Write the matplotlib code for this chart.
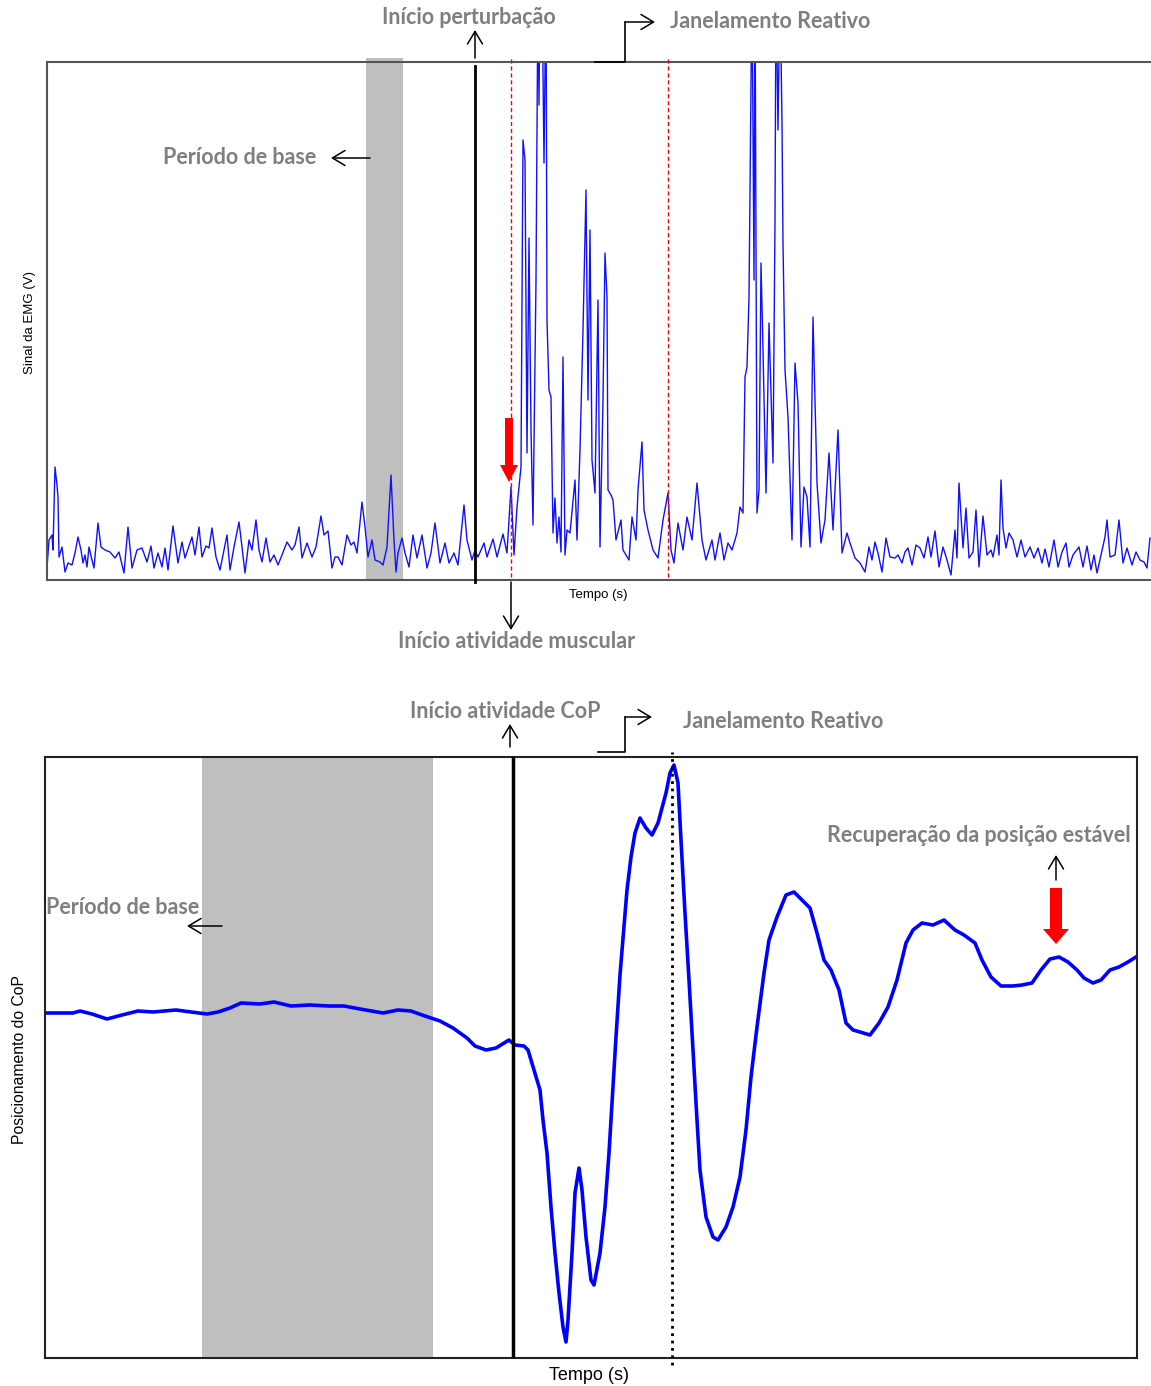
import matplotlib
matplotlib.use('Agg')
import matplotlib.pyplot as plt
from matplotlib.patches import FancyArrow, FancyArrowPatch
from matplotlib.lines import Line2D

W, H = 1151, 1386

# EMG signal (top panel) - time in sample units, amplitude in arbitrary units
emg_t = [47, 49, 52, 53, 55, 57, 58, 59, 62, 65, 68, 72, 75, 78, 81, 83, 85, 87, 89, 92,
         94, 98, 101, 105, 110, 115, 119, 124, 128, 132, 137, 142, 147, 151, 154, 158, 162, 165, 168, 173,
         178, 182, 185, 192, 195, 199, 202, 206, 209, 212, 216, 220, 227, 230, 234, 239, 242, 245, 249, 252,
         256, 259, 262, 266, 270, 274, 278, 282, 287, 292, 295, 299, 302, 307, 312, 316, 321, 324, 328, 332,
         335, 338, 342, 347, 351, 354, 357, 362, 365, 368, 372, 375, 380, 383, 387, 391, 394, 396, 398, 402,
         405, 409, 413, 417, 422, 427, 431, 435, 440, 445, 449, 454, 458, 464, 467, 472, 475, 478, 484, 487,
         493, 497, 503, 507, 511, 514, 517, 521, 523, 525, 527, 529, 531, 533, 536, 538, 539, 540, 542, 544,
         546, 547, 549, 551, 553, 555, 557, 559, 561, 563, 565, 567, 570, 575, 577, 580, 583, 586, 588, 590,
         592, 595, 598, 600, 603, 605, 607, 608, 611, 613, 616, 621, 623, 629, 632, 636, 638, 642, 644, 648,
         653, 658, 663, 668, 671, 674, 678, 683, 687, 692, 697, 702, 706, 712, 715, 720, 724, 728, 732, 737,
         740, 743, 745, 747, 749, 752, 754, 755, 757, 759, 761, 763, 766, 769, 773, 775, 776, 778, 780, 782,
         783, 785, 788, 792, 795, 798, 801, 804, 807, 810, 813, 817, 821, 825, 829, 833, 838, 842, 847, 850,
         855, 860, 865, 869, 872, 875, 878, 882, 886, 890, 895, 898, 902, 905, 908, 912, 916, 920, 924, 928,
         931, 935, 939, 943, 947, 951, 955, 957, 959, 963, 966, 969, 973, 976, 979, 983, 987, 991, 993, 997,
         999, 1001, 1003, 1006, 1009, 1013, 1017, 1021, 1025, 1030, 1034, 1038, 1042, 1045, 1049, 1054, 1058, 1062, 1066, 1069,
         1073, 1079, 1083, 1087, 1091, 1094, 1097, 1101, 1105, 1107, 1110, 1115, 1119, 1123, 1127, 1132, 1136, 1140, 1144, 1147,
         1150]
emg_v = [13, 40, 45, 30, 113, 95, 83, 23, 33, 8, 17, 15, 27, 43, 30, 17, 25, 13, 33, 20,
         12, 57, 33, 30, 28, 22, 28, 7, 53, 12, 30, 32, 18, 34, 12, 27, 13, 32, 10, 54,
         17, 38, 22, 43, 25, 53, 23, 34, 32, 52, 23, 10, 45, 10, 33, 58, 33, 7, 40, 30,
         60, 30, 18, 42, 18, 25, 15, 25, 38, 30, 35, 53, 22, 37, 23, 33, 64, 45, 49, 12,
         23, 23, 15, 45, 35, 38, 27, 78, 53, 23, 40, 20, 18, 15, 33, 105, 40, 8, 27, 42,
         27, 13, 45, 22, 45, 12, 27, 57, 17, 37, 17, 27, 15, 75, 40, 20, 30, 23, 37, 23,
         41, 23, 46, 27, 93, 25, 73, 113, 440, 420, 127, 342, 150, 55, 300, 600, 475, 600, 600, 417,
         600, 260, 190, 183, 47, 82, 37, 63, 28, 223, 25, 50, 47, 100, 40, 130, 250, 390, 180, 350,
         120, 87, 280, 33, 180, 327, 283, 90, 85, 80, 40, 60, 30, 20, 63, 40, 90, 138, 70, 50,
         30, 22, 60, 87, 30, 17, 57, 30, 63, 40, 97, 40, 20, 40, 20, 47, 20, 37, 30, 47,
         73, 67, 203, 213, 283, 600, 300, 600, 67, 90, 317, 230, 87, 257, 117, 360, 600, 450, 600, 457,
         337, 210, 163, 40, 217, 177, 33, 93, 83, 33, 263, 97, 37, 60, 127, 50, 150, 27, 47, 37,
         22, 17, 8, 33, 20, 38, 27, 8, 42, 23, 22, 25, 17, 28, 32, 15, 35, 32, 22, 43,
         23, 49, 13, 33, 20, 5, 50, 22, 97, 32, 72, 22, 28, 70, 13, 64, 25, 30, 23, 45,
         25, 100, 52, 32, 47, 40, 23, 40, 23, 33, 22, 32, 17, 31, 13, 40, 13, 28, 37, 13,
         25, 33, 13, 34, 10, 25, 7, 25, 43, 60, 23, 25, 60, 17, 32, 15, 28, 20, 18, 12,
         42]

# CoP position (bottom panel)
cop_t = [46, 60, 73, 80, 92, 107, 122, 138, 153, 176, 191, 207, 218, 230, 241, 260, 274, 291, 310, 329,
         344, 360, 383, 398, 411, 425, 440, 453, 467, 475, 486, 496, 509, 515, 524, 528, 534, 540, 543, 547,
         551, 555, 559, 563, 566, 568, 572, 575, 579, 582, 586, 591, 594, 600, 605, 609, 613, 616, 620, 624,
         627, 631, 635, 640, 646, 652, 658, 666, 670, 674, 678, 681, 685, 689, 693, 697, 700, 706, 713, 718,
         726, 733, 740, 746, 751, 757, 764, 769, 777, 786, 794, 802, 810, 817, 824, 831, 839, 846, 853, 860,
         870, 879, 888, 897, 906, 913, 922, 933, 944, 955, 964, 975, 982, 991, 1001, 1013, 1022, 1032, 1041, 1050,
         1059, 1068, 1077, 1084, 1093, 1101, 1110, 1119, 1128, 1136]
cop_v = [345, 345, 345, 347, 344, 339, 343, 347, 346, 348, 346, 344, 346, 350, 355, 354, 356, 352, 353, 352,
         352, 349, 345, 348, 347, 342, 337, 330, 320, 312, 308, 310, 318, 313, 312, 308, 288, 268, 238, 205,
         151, 105, 65, 31, 16, 38, 105, 165, 190, 168, 121, 78, 73, 105, 151, 205, 271, 321, 383, 431,
         468, 501, 525, 540, 530, 523, 535, 565, 585, 593, 575, 518, 445, 378, 308, 238, 188, 141, 121, 118,
         131, 151, 181, 228, 281, 331, 385, 418, 441, 463, 466, 458, 450, 425, 398, 388, 368, 335, 328, 326,
         323, 335, 351, 378, 415, 428, 435, 433, 438, 428, 423, 415, 398, 381, 372, 372, 373, 375, 388, 399,
         401, 396, 388, 380, 375, 378, 388, 391, 396, 401]

# event markers
emg_base = (366, 403)
emg_perturb = 475
emg_onset = 511
emg_window_end = 668
cop_base = (202, 433)
cop_onset = 513
cop_window_end = 672
cop_recovery = 1056

GREY_TXT = '#7f7f7f'
NOTE_FONT = 'Lato'


def fx(x):
    return x / W


def fy(y):
    return 1 - y / H


fig = plt.figure(figsize=(W / 100, H / 100), dpi=100)


def note(x, y, s):
    fig.text(fx(x), fy(y), s, ha='center', va='center', fontsize=15.5,
             color=GREY_TXT, fontweight='bold', family=NOTE_FONT)


def arrow(x0, y0, x1, y1):
    fig.add_artist(FancyArrowPatch((fx(x0), fy(y0)), (fx(x1), fy(y1)),
                                   transform=fig.transFigure, arrowstyle='->,head_length=0.5,head_width=0.3',
                                   mutation_scale=18, lw=1.1, color='black', shrinkA=0, shrinkB=0))


def elbow(x0, y0, xm, ym, x1):
    fig.add_artist(Line2D([fx(x0), fx(xm), fx(xm)], [fy(y0), fy(y0), fy(ym)],
                          transform=fig.transFigure, color='black', lw=1.2))
    arrow(xm, ym, x1, ym)


# ---------------- top panel: EMG ----------------
ax1 = fig.add_axes([fx(47), fy(580), (W - 47) / W, (580 - 62) / H])
ax1.set_xlim(47, W)
ax1.set_ylim(0, 518)
ax1.axvspan(emg_base[0], emg_base[1], ymin=0, ymax=1.008, color='#bfbfbf', lw=0, clip_on=False, zorder=0)
ax1.plot(emg_t, emg_v, color='#1010ff', lw=1.0, zorder=2)
ax1.axvline(emg_perturb, ymin=-0.004, ymax=0.992, color='black', lw=2, clip_on=False, zorder=3)
for xv in (emg_onset, emg_window_end):
    ax1.axvline(xv, ymin=0.005, ymax=1.008, color='red', lw=1, ls=(0, (3, 2)), clip_on=False, zorder=3)
ax1.add_patch(FancyArrow(509, 162, 0, -64, width=8, head_width=18, head_length=17,
                         length_includes_head=True, color='#ff0000', lw=0, zorder=4))
ax1.set_xticks([])
ax1.set_yticks([])
ax1.spines['right'].set_visible(False)
for s in ('left', 'top', 'bottom'):
    ax1.spines[s].set_color('#555555')
    ax1.spines[s].set_linewidth(1.5)
fig.text(fx(598), fy(595), 'Tempo (s)', ha='center', va='center', fontsize=9.5, family='Liberation Sans')
fig.text(fx(30), fy(322), 'Sinal da EMG (V)', ha='center', va='center', rotation=90,
         fontsize=9.5, family='Liberation Sans')

# ---------------- bottom panel: CoP ----------------
ax2 = fig.add_axes([fx(45), fy(1358), (1137 - 45) / W, (1358 - 757) / H])
ax2.set_xlim(45, 1137)
ax2.set_ylim(0, 601)
ax2.axvspan(cop_base[0], cop_base[1], color='#bfbfbf', lw=0, zorder=0)
ax2.plot(cop_t, cop_v, color='#0000ff', lw=2.6, zorder=2)
ax2.axvline(cop_onset, color='black', lw=2.5, zorder=3)
ax2.axvline(cop_window_end, ymin=-0.012, ymax=1.008, color='black', lw=2, ls=':', clip_on=False, zorder=3)
ax2.add_patch(FancyArrow(cop_recovery, 470, 0, -56, width=12, head_width=26, head_length=15,
                         length_includes_head=True, color='#ff0000', lw=0, zorder=4))
ax2.set_xticks([])
ax2.set_yticks([])
for s in ax2.spines.values():
    s.set_color('#222222')
    s.set_linewidth(1.5)
fig.text(fx(589), fy(1375), 'Tempo (s)', ha='center', va='center', fontsize=13, family='Liberation Sans')
fig.text(fx(20), fy(1060), 'Posicionamento do CoP', ha='center', va='center', rotation=90,
         fontsize=11.3, family='Liberation Sans')

# ---------------- annotations ----------------
note(469, 18, 'Início perturbação')
arrow(475, 58, 475, 30)
note(770, 22, 'Janelamento Reativo')
elbow(595, 62, 625, 22, 655)
note(240, 158, 'Período de base')
arrow(370, 158, 331, 158)
note(517, 641, 'Início atividade muscular')
arrow(511, 582, 511, 630)

note(505, 711, 'Início atividade CoP')
arrow(510, 747, 510, 724)
note(783, 722, 'Janelamento Reativo')
elbow(598, 752, 625, 717, 652)
note(979, 835, 'Recuperação da posição estável')
arrow(cop_recovery, 880, cop_recovery, 855)
note(123, 907, 'Período de base')
arrow(222, 926, 187, 926)

fig.savefig('out.png', dpi=100)
